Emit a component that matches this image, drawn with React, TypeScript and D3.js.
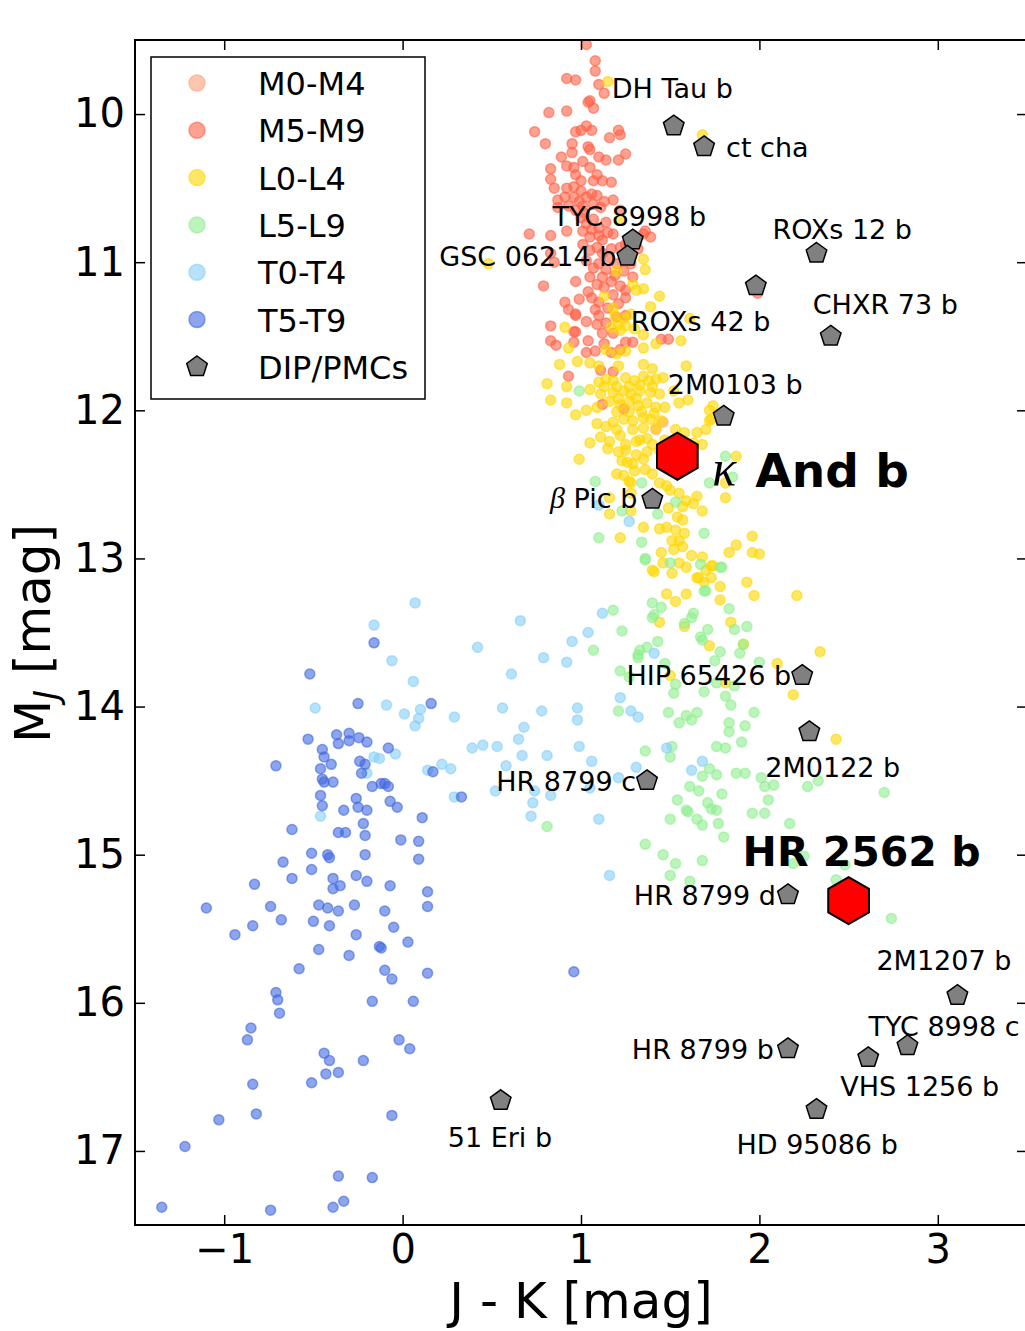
import React, { useEffect, useRef } from 'react';
import * as d3 from 'd3';

// Colour-magnitude diagram: field dwarfs by spectral type + directly imaged planets

// [J-K, M_J]
const m0m4 = [[1.46, 12.08], [1.42, 12.13]];

const m5m9 = [
  [1.03, 9.53], [1.08, 9.64], [1.08, 9.71], [0.92, 9.76], [0.97, 9.77], [1.10, 9.80], [1.13, 9.86], [1.05, 9.91],
  [1.07, 9.96], [1.04, 9.92], [0.82, 9.99], [0.92, 9.98], [0.74, 10.12], [0.80, 10.20], [0.97, 10.12], [1.00, 10.11],
  [1.03, 10.08], [1.06, 10.11], [1.21, 10.11], [1.22, 10.14], [1.16, 10.16], [0.95, 10.20], [0.95, 10.26], [1.04, 10.22],
  [1.05, 10.24], [0.89, 10.29], [0.92, 10.35], [0.96, 10.36], [1.01, 10.32], [1.10, 10.29], [1.14, 10.31], [1.25, 10.27],
  [1.21, 10.31], [0.83, 10.37], [0.83, 10.44], [0.85, 10.50], [0.97, 10.41], [1.05, 10.36], [1.09, 10.41], [1.12, 10.45],
  [1.17, 10.46], [1.07, 10.45], [0.92, 10.50], [0.96, 10.49], [1.00, 10.52], [0.91, 10.56], [0.96, 10.56], [0.99, 10.59],
  [1.03, 10.56], [0.87, 10.58], [0.87, 10.63], [1.06, 10.54], [1.09, 10.55], [1.13, 10.59], [1.18, 10.58], [0.93, 10.62],
  [0.97, 10.65], [1.01, 10.62], [1.07, 10.61], [1.11, 10.63], [0.92, 10.79], [0.71, 10.81], [0.83, 10.82], [1.00, 10.70],
  [1.03, 10.74], [1.07, 10.71], [1.10, 10.77], [1.14, 10.73], [1.01, 10.79], [1.05, 10.83], [1.10, 10.82], [1.15, 10.80],
  [1.18, 10.81], [1.35, 10.81], [1.39, 10.83], [0.79, 11.16], [0.83, 10.94], [0.97, 11.13], [1.01, 10.88], [1.05, 10.92],
  [1.09, 10.90], [1.12, 10.94], [1.17, 10.91], [1.22, 10.90], [1.25, 10.88], [1.03, 10.99], [1.07, 11.04], [1.10, 11.01],
  [1.14, 11.05], [1.20, 11.01], [1.24, 11.06], [1.29, 11.10], [1.05, 11.10], [1.09, 11.15], [1.13, 11.17], [1.17, 11.13],
  [1.22, 11.16], [1.25, 11.19], [0.91, 11.27], [0.93, 11.32], [0.99, 11.25], [1.06, 11.24], [1.10, 11.27], [1.15, 11.31],
  [1.21, 11.28], [1.25, 11.24], [0.83, 11.43], [0.97, 11.36], [1.03, 11.40], [1.09, 11.42], [1.14, 11.41], [1.20, 11.37],
  [1.25, 11.36], [0.85, 11.00], [0.83, 11.53], [0.86, 11.56], [0.96, 11.47], [0.96, 11.54], [1.03, 11.61], [0.97, 11.35],
  [0.97, 11.47], [1.10, 11.36], [1.04, 11.53], [1.08, 11.60], [1.13, 11.55], [1.17, 11.61], [1.22, 11.59], [1.25, 11.54],
  [1.29, 11.54], [1.45, 11.52], [1.49, 11.52], [0.93, 11.77], [1.11, 11.73], [1.18, 11.74], [1.12, 11.96], [1.24, 11.99],
  [1.22, 10.65], [1.32, 10.91], [1.36, 10.79], [1.28, 11.01], [1.99, 11.21], [1.00, 10.45], [1.02, 10.67], [1.06, 10.78],
  [1.12, 10.85], [1.16, 10.97], [1.19, 11.09], [1.12, 11.10], [1.04, 11.20], [1.18, 11.22], [1.08, 11.32], [1.18, 11.48],
  [1.12, 11.48],
];

const l0l4 = [
  [1.39, 11.30], [1.28, 11.35], [1.24, 11.38], [1.19, 11.36], [1.21, 11.42], [1.17, 11.44], [1.22, 11.46], [1.25, 11.43],
  [1.30, 11.45], [1.35, 11.49], [1.56, 11.53], [1.42, 11.55], [1.35, 11.58], [0.91, 11.44], [0.93, 11.58], [1.14, 11.59],
  [1.20, 11.62], [1.25, 11.60], [0.98, 11.67], [1.05, 11.68], [1.10, 11.70], [0.88, 11.69], [1.35, 11.69], [1.40, 11.72],
  [1.59, 11.70], [1.21, 11.70], [0.81, 11.82], [0.92, 11.84], [0.83, 11.93], [0.92, 11.95], [1.05, 11.86], [1.10, 11.81],
  [1.14, 11.79], [1.18, 11.80], [1.25, 11.78], [1.30, 11.80], [1.35, 11.77], [1.38, 11.80], [1.42, 11.79], [1.46, 11.78],
  [1.11, 11.89], [1.18, 11.88], [1.24, 11.87], [1.28, 11.89], [1.33, 11.87], [1.39, 11.88], [1.44, 11.89], [1.52, 11.87],
  [1.55, 11.95], [1.60, 11.93], [0.97, 12.03], [1.03, 12.00], [1.09, 11.98], [1.16, 11.94], [1.22, 11.96], [1.27, 11.94],
  [1.32, 11.97], [1.37, 11.95], [1.42, 11.98], [1.47, 11.98], [1.74, 11.97], [1.72, 12.00], [1.09, 12.09], [1.14, 12.11],
  [1.18, 12.08], [1.24, 12.06], [1.29, 12.07], [1.35, 12.05], [1.39, 12.06], [1.45, 12.07], [1.53, 12.13], [1.58, 12.15],
  [1.65, 12.15], [1.70, 12.13], [1.73, 12.06], [1.05, 12.22], [1.11, 12.18], [1.16, 12.21], [1.22, 12.17], [1.25, 12.23],
  [1.31, 12.21], [1.37, 12.19], [1.40, 12.23], [1.15, 12.26], [1.21, 12.28], [1.25, 12.27], [1.31, 12.30], [1.37, 12.28],
  [1.63, 12.22], [1.68, 12.23], [1.87, 12.31], [0.99, 12.33], [1.23, 12.34], [1.29, 12.36], [1.35, 12.33], [1.20, 12.43],
  [1.24, 12.44], [1.30, 12.41], [1.40, 12.43], [1.81, 12.49], [1.81, 12.59], [1.28, 12.49], [1.44, 12.49], [1.48, 12.51],
  [1.16, 12.59], [1.28, 12.56], [1.50, 12.54], [1.55, 12.56], [1.59, 12.61], [1.65, 12.58], [1.63, 12.63], [1.57, 12.65],
  [1.49, 12.66], [1.54, 12.72], [1.57, 12.74], [1.68, 12.68], [1.28, 12.68], [1.22, 12.86], [1.35, 12.79], [1.44, 12.80],
  [1.48, 12.79], [1.53, 12.81], [1.58, 12.83], [1.55, 12.88], [1.51, 12.88], [1.52, 12.94], [1.57, 12.92], [1.62, 12.98],
  [1.68, 12.99], [1.73, 13.05], [1.70, 13.08], [1.45, 12.96], [1.40, 13.08], [1.51, 13.10], [1.83, 12.96], [1.87, 12.91],
  [1.96, 12.96], [2.00, 12.97], [1.96, 12.85], [1.93, 13.16], [1.97, 13.25], [2.21, 13.25], [1.48, 13.24], [1.59, 13.24],
  [1.66, 13.13], [1.78, 13.19], [1.16, 12.70], [1.41, 13.09], [1.46, 13.03], [1.55, 13.03], [1.59, 13.06], [1.65, 13.13],
  [1.69, 13.16], [1.73, 13.13], [1.74, 13.05], [1.53, 13.29], [1.78, 13.28], [1.44, 13.43], [1.58, 13.46], [1.84, 13.43],
  [1.72, 13.59], [1.91, 13.58], [2.34, 13.63], [2.10, 13.71], [1.50, 13.79], [1.81, 13.84], [2.19, 13.92], [2.43, 14.22],
  [1.68, 10.14], [1.61, 11.38], [1.72, 12.07], [1.15, 9.78], [1.22, 10.71], [1.35, 10.98], [1.36, 11.05], [1.29, 11.15],
  [1.31, 11.19], [1.35, 11.18], [1.44, 11.23], [1.18, 11.31], [1.13, 11.23], [1.20, 11.06], [0.48, 11.01],
  [1.13, 11.84], [1.20, 11.84], [1.27, 11.84], [1.33, 11.83], [1.40, 11.84], [1.21, 11.92], [1.31, 11.92], [1.20, 12.01],
  [1.27, 12.01], [1.34, 12.01], [1.41, 12.02], [1.29, 12.13], [1.35, 12.12], [1.42, 12.12], [1.20, 12.13], [1.47, 12.20],
  [1.44, 12.27], [1.27, 12.48], [1.36, 12.40], [1.33, 12.20], [1.26, 12.35],
];

const l5l9 = [
  [1.18, 13.35], [1.23, 13.49], [1.07, 13.62], [1.40, 13.30], [1.45, 13.33], [1.41, 13.38], [1.40, 13.40], [1.63, 13.37],
  [1.62, 13.40], [1.58, 13.44], [1.69, 13.22], [1.83, 13.34], [1.79, 13.06], [1.36, 13.01], [1.86, 13.48], [1.93, 13.46],
  [1.71, 13.48], [1.67, 13.53], [1.68, 13.55], [1.43, 13.56], [1.37, 13.60], [1.33, 13.62], [1.32, 13.67], [1.32, 13.65],
  [1.78, 13.63], [1.75, 13.69], [1.89, 13.64], [1.91, 13.58], [2.00, 13.70], [1.22, 13.76], [1.27, 13.80], [1.47, 13.71],
  [1.53, 13.85], [1.52, 13.91], [1.69, 13.90], [1.76, 13.84], [1.86, 13.86], [1.81, 13.93], [1.84, 13.99], [1.97, 14.04],
  [1.21, 14.03], [1.49, 14.04], [1.59, 14.06], [1.65, 14.04], [1.62, 14.09], [1.55, 14.11], [1.83, 14.11], [1.83, 14.17],
  [1.92, 14.13], [1.90, 14.24], [1.76, 14.27], [1.81, 14.28], [1.51, 14.27], [1.50, 14.34], [1.36, 14.30], [1.72, 14.42],
  [1.76, 14.46], [1.68, 14.47], [1.87, 14.45], [1.92, 14.45], [2.01, 14.48], [2.03, 14.54], [2.08, 14.53], [2.27, 14.54],
  [2.33, 14.50], [2.70, 14.58], [1.61, 14.54], [1.66, 14.57], [1.79, 14.59], [1.54, 14.63], [2.05, 14.63], [1.71, 14.65],
  [1.73, 14.69], [1.76, 14.70], [1.59, 14.70], [1.60, 14.71], [1.65, 14.76], [1.68, 14.80], [1.77, 14.79], [1.50, 14.76],
  [1.96, 14.72], [2.03, 14.72], [2.17, 14.79], [1.80, 14.88], [1.36, 14.93], [1.46, 15.00], [0.81, 14.81], [1.53, 15.06],
  [1.68, 15.04], [1.50, 15.14], [1.61, 15.18], [2.19, 15.06], [2.25, 15.01], [2.48, 15.07], [2.43, 15.17], [2.74, 15.43],
  [0.99, 11.87], [1.81, 12.31], [1.85, 12.45], [1.72, 12.49], [1.08, 12.48], [1.34, 12.49], [1.23, 12.68], [1.43, 12.70],
  [1.53, 12.62], [1.10, 12.86], [1.34, 12.89], [1.36, 13.00], [1.50, 13.03], [1.69, 12.83], [1.67, 13.04], [1.78, 13.06],
  [1.70, 13.22],
];

const t0t4 = [
  [0.07, 13.30], [-0.16, 13.45], [-0.06, 13.69], [0.06, 13.83], [-0.49, 14.01], [-0.09, 13.99], [0.01, 14.05], [0.10, 14.02],
  [0.09, 14.08], [0.07, 14.13], [-0.16, 14.34], [-0.13, 14.35], [-0.04, 14.32], [-0.20, 14.45], [0.14, 14.43], [0.22, 14.39],
  [-0.46, 14.74], [0.66, 13.42], [0.42, 13.60], [0.61, 13.78], [0.79, 13.67], [0.92, 13.70], [0.95, 13.56], [1.04, 13.50],
  [1.12, 13.37], [0.29, 14.07], [0.56, 14.01], [0.78, 14.03], [0.98, 14.01], [0.98, 14.09], [0.68, 14.14], [0.65, 14.22],
  [0.39, 14.28], [0.45, 14.26], [0.53, 14.27], [0.67, 14.33], [0.81, 14.33], [0.99, 14.27], [1.06, 14.37], [0.27, 14.42],
  [0.58, 14.40], [0.29, 14.61], [0.52, 14.57], [0.74, 14.57], [0.73, 14.65], [0.83, 14.60], [0.72, 14.74], [1.10, 14.76],
  [1.05, 14.55], [1.21, 14.48], [1.22, 13.94], [1.28, 14.03], [1.32, 14.07], [1.31, 14.41], [1.16, 15.14], [1.41, 13.64],
  [1.48, 14.28], [1.62, 14.43], [1.68, 14.37], [1.10, 12.64], [1.27, 12.75],
];

const t5t9 = [
  [-0.16, 13.57], [-0.52, 13.78], [-0.25, 13.98], [0.16, 13.98], [-0.53, 14.22], [-0.37, 14.19], [-0.30, 14.18], [-0.30, 14.23],
  [-0.245, 14.21], [-0.20, 14.24], [-0.36, 14.25], [-0.45, 14.29], [-0.08, 14.28], [-0.44, 14.34], [-0.40, 14.39], [-0.24, 14.37],
  [-0.21, 14.39], [-0.46, 14.42], [-0.23, 14.45], [0.17, 14.44], [-0.45, 14.49], [-0.44, 14.51], [-0.39, 14.51], [-0.17, 14.54],
  [-0.12, 14.52], [-0.10, 14.52], [-0.08, 14.54], [-0.46, 14.60], [-0.26, 14.62], [-0.45, 14.67], [-0.33, 14.70], [-0.25, 14.68],
  [-0.20, 14.70], [-0.07, 14.64], [-0.03, 14.68], [0.11, 14.75], [-0.22, 14.79], [-0.62, 14.83], [-0.36, 14.85], [-0.32, 14.85],
  [-0.21, 14.87], [-0.01, 14.90], [0.09, 14.91], [-0.51, 14.99], [-0.42, 15.00], [-0.41, 15.02], [-0.21, 15.00], [0.09, 15.03],
  [-0.67, 15.05], [-0.51, 15.10], [-0.62, 15.16], [-0.39, 15.16], [-0.26, 15.14], [-0.20, 15.18], [-0.83, 15.20], [-0.39, 15.23],
  [-0.35, 15.21], [-0.07, 15.21], [0.14, 15.25], [-1.10, 15.36], [-0.74, 15.35], [-0.47, 15.34], [-0.42, 15.36], [-0.36, 15.38],
  [-0.27, 15.34], [-0.10, 15.38], [0.14, 15.35], [-0.84, 15.48], [-0.68, 15.44], [-0.50, 15.45], [-0.41, 15.48], [-0.05, 15.49],
  [-0.94, 15.54], [-0.26, 15.54], [0.03, 15.59], [-0.47, 15.64], [-0.30, 15.68], [-0.13, 15.62], [-0.12, 15.63], [-0.58, 15.77],
  [-0.10, 15.78], [-0.06, 15.84], [0.14, 15.80], [-0.71, 15.93], [-0.70, 15.98], [-0.69, 16.07], [-0.17, 15.99], [0.06, 15.99],
  [-0.85, 16.17], [-0.87, 16.25], [-0.02, 16.25], [0.04, 16.31], [-0.44, 16.34], [-0.41, 16.39], [-0.22, 16.39], [-0.43, 16.48],
  [-0.36, 16.47], [-0.51, 16.54], [-0.84, 16.55], [-1.03, 16.79], [-0.82, 16.75], [-0.06, 16.76], [-1.22, 16.97], [-0.36, 17.17],
  [-0.17, 17.18], [-1.35, 17.38], [-0.74, 17.40], [-0.39, 17.38], [-0.33, 17.34], [0.96, 15.79], [-0.71, 14.40], [0.33, 14.61],
];

// directly imaged planets / planetary-mass companions
const dipNames = [
  'DH Tau b', 'ct cha', 'TYC 8998 b', 'GSC 06214 b', 'ROXs 12 b', 'ROXs 42 b', 'CHXR 73 b', '2M0103 b', 'β Pic b',
  'HIP 65426 b', '2M0122 b', 'HR 8799 c', 'HR 8799 d', '2M1207 b', 'TYC 8998 c', 'HR 8799 b', 'VHS 1256 b', 'HD 95086 b', '51 Eri b',
];
const dipJK = [1.52, 1.69, 1.29, 1.26, 2.32, 1.98, 2.40, 1.80, 1.40, 2.24, 2.28, 1.37, 2.16, 3.11, 2.83, 2.16, 2.61, 2.32, 0.55];
const dipMJ = [10.08, 10.22, 10.85, 10.96, 10.94, 11.16, 11.50, 12.04, 12.60, 13.79, 14.17, 14.50, 15.27, 15.95, 16.29, 16.31, 16.37, 16.72, 16.66];
// label offset from marker, px: [dx, dy(baseline), anchor]
const dipLabelPos: [number, number, string][] = [
  [-62, -28, 'start'], [22, 10, 'start'], [-80, -14, 'start'], [-11, 10, 'end'], [-44, -14, 'start'], [-125, 45, 'start'],
  [-18, -22, 'start'], [-56, -22, 'start'], [-15, 9, 'end'], [-11, 10, 'end'], [-44, 45, 'start'], [-11, 10, 'end'],
  [-12, 10, 'end'], [-81, -25, 'start'], [-39, -10, 'start'], [-14, 10, 'end'], [-28, 38, 'start'], [-80, 45, 'start'],
  [-53, 46, 'start'],
];

// highlighted objects
const starNames = ['κ And b', 'HR 2562 b'];
const starJK = [1.54, 2.50];
const starMJ = [12.31, 15.31];

const groups = [
  { label: 'M0-M4', color: '#FFA07A', data: m0m4 },
  { label: 'M5-M9', color: '#FF6347', data: m5m9 },
  { label: 'L0-L4', color: '#FFD700', data: l0l4 },
  { label: 'L5-L9', color: '#90EE90', data: l5l9 },
  { label: 'T0-T4', color: '#87CEFA', data: t0t4 },
  { label: 'T5-T9', color: '#4169E1', data: t5t9 },
];

const xTicks = [-1, 0, 1, 2, 3];
const yTicks = [10, 11, 12, 13, 14, 15, 16, 17];

const FONT = 'DejaVu Sans';
const GREEK = 'Liberation Serif';

const polygon = (n: number, r: number) =>
  d3.range(n).map((i) => {
    const a = -Math.PI / 2 + (i * 2 * Math.PI) / n;
    return [r * Math.cos(a), r * Math.sin(a)].join(',');
  }).join(' ');

const App = () => {
  const svgRef = useRef<SVGSVGElement>(null);

  useEffect(() => {
    const width = 1025;
    const height = 1331;
    const left = 135, right = 1027, top = 40, bottom = 1225;

    const svg = d3.select(svgRef.current);
    svg.selectAll('*').remove();

    const x = d3.scaleLinear().domain([-1.5, 3.5]).range([left, right]);
    const y = d3.scaleLinear().domain([9.5, 17.5]).range([top, bottom]);

    svg.append('rect').attr('width', width).attr('height', height).attr('fill', '#fff');

    // scatter of field objects
    groups.forEach((g) => {
      svg.append('g')
        .selectAll('circle')
        .data(g.data)
        .enter()
        .append('circle')
        .attr('cx', (d) => x(d[0]))
        .attr('cy', (d) => y(d[1]))
        .attr('r', 5)
        .attr('fill', g.color)
        .attr('fill-opacity', 0.6)
        .attr('stroke', g.color)
        .attr('stroke-opacity', 0.6)
        .attr('stroke-width', 1.5);
    });

    // planets
    const dip = svg.append('g');
    dipNames.forEach((name, i) => {
      const px = x(dipJK[i]);
      const py = y(dipMJ[i]);
      dip.append('polygon')
        .attr('points', polygon(5, 10.8))
        .attr('transform', `translate(${px},${py})`)
        .attr('fill', '#808080')
        .attr('stroke', '#000')
        .attr('stroke-width', 1.5);
      const [dx, dy, anchor] = dipLabelPos[i];
      const t = dip.append('text')
        .attr('x', px + dx)
        .attr('y', py + dy)
        .attr('text-anchor', anchor)
        .attr('font-family', FONT)
        .attr('font-size', 27)
        .attr('fill', '#000');
      if (name.startsWith('β')) {
        t.append('tspan').attr('font-family', GREEK).attr('font-style', 'italic').attr('font-size', 30).text('β');
        t.append('tspan').text(name.slice(1));
      } else {
        t.text(name);
      }
    });

    // highlighted
    starNames.forEach((name, i) => {
      const px = x(starJK[i]);
      const py = y(starMJ[i]);
      svg.append('polygon')
        .attr('points', polygon(6, 23.5))
        .attr('transform', `translate(${px},${py})`)
        .attr('fill', '#FF0000')
        .attr('stroke', '#000')
        .attr('stroke-width', 2);
      if (name.startsWith('κ')) {
        svg.append('text')
          .attr('x', px + 35).attr('y', py + 29)
          .attr('font-family', GREEK).attr('font-style', 'italic')
          .attr('font-size', 50).text('κ');
        svg.append('text')
          .attr('x', px + 78).attr('y', py + 31)
          .attr('font-family', FONT).attr('font-weight', 'bold')
          .attr('font-size', 47).text(name.slice(2));
      } else {
        svg.append('text')
          .attr('x', px - 106).attr('y', py - 35)
          .attr('font-family', FONT).attr('font-weight', 'bold')
          .attr('font-size', 41).text(name);
      }
    });

    // axes with inward ticks on all sides
    const styleAxis = (g: any) => {
      g.select('.domain').remove();
      g.selectAll('line').attr('stroke', '#000').attr('stroke-width', 1.5);
      g.selectAll('text').attr('font-family', FONT).attr('font-size', 40).attr('fill', '#000');
    };
    const fmt = d3.format('d');
    svg.append('g')
      .attr('transform', `translate(0,${bottom})`)
      .call(d3.axisBottom(x).tickValues(xTicks).tickFormat(fmt as any).tickSizeInner(-10).tickSizeOuter(0).tickPadding(10))
      .call(styleAxis);
    svg.append('g')
      .attr('transform', `translate(0,${top})`)
      .call(d3.axisTop(x).tickValues(xTicks).tickSizeInner(-10).tickSizeOuter(0).tickFormat(() => ''))
      .call(styleAxis);
    svg.append('g')
      .attr('transform', `translate(${left},0)`)
      .call(d3.axisLeft(y).tickValues(yTicks).tickFormat(fmt as any).tickSizeInner(-10).tickSizeOuter(0).tickPadding(10))
      .call(styleAxis);
    svg.append('g')
      .attr('transform', `translate(${right},0)`)
      .call(d3.axisRight(y).tickValues(yTicks).tickSizeInner(-10).tickSizeOuter(0).tickFormat(() => ''))
      .call(styleAxis);

    svg.append('rect')
      .attr('x', left).attr('y', top)
      .attr('width', right - left).attr('height', bottom - top)
      .attr('fill', 'none').attr('stroke', '#000').attr('stroke-width', 2);

    // axis labels
    svg.append('text')
      .attr('x', x(1))
      .attr('y', 1318)
      .attr('text-anchor', 'middle')
      .attr('font-family', FONT).attr('font-size', 50)
      .text('J - K [mag]');

    const yl = svg.append('text')
      .attr('transform', `translate(50,${(top + bottom) / 2 + 1}) rotate(-90)`)
      .attr('text-anchor', 'middle')
      .attr('font-family', FONT).attr('font-size', 50);
    yl.append('tspan').text('M');
    yl.append('tspan').attr('dy', 8).attr('font-size', 34).attr('font-style', 'italic').text('J');
    yl.append('tspan').attr('dy', -8).text(' [mag]');

    // legend
    const lg = svg.append('g');
    lg.append('rect')
      .attr('x', 151).attr('y', 57).attr('width', 274).attr('height', 342)
      .attr('fill', '#fff').attr('stroke', '#000').attr('stroke-width', 1.5);
    const items = [...groups.map((g) => ({ label: g.label, color: g.color, pent: false })), { label: 'DIP/PMCs', color: '#808080', pent: true }];
    items.forEach((it, i) => {
      const cy = 83 + i * 47.3;
      if (it.pent) {
        lg.append('polygon')
          .attr('points', polygon(5, 10.8))
          .attr('transform', `translate(197,${cy})`)
          .attr('fill', '#808080').attr('stroke', '#000').attr('stroke-width', 1.5);
      } else {
        lg.append('circle')
          .attr('cx', 197).attr('cy', cy).attr('r', 8)
          .attr('fill', it.color).attr('fill-opacity', 0.6)
          .attr('stroke', it.color).attr('stroke-opacity', 0.6).attr('stroke-width', 1.5);
      }
      lg.append('text')
        .attr('x', 258).attr('y', cy + 12)
        .attr('font-family', FONT).attr('font-size', 32)
        .text(it.label);
    });
  }, []);

  return (
    <svg
      ref={svgRef}
      width="1025"
      height="1331"
      style={{ position: 'absolute', left: 0, top: 0 }}
    />
  );
};

export default App;
